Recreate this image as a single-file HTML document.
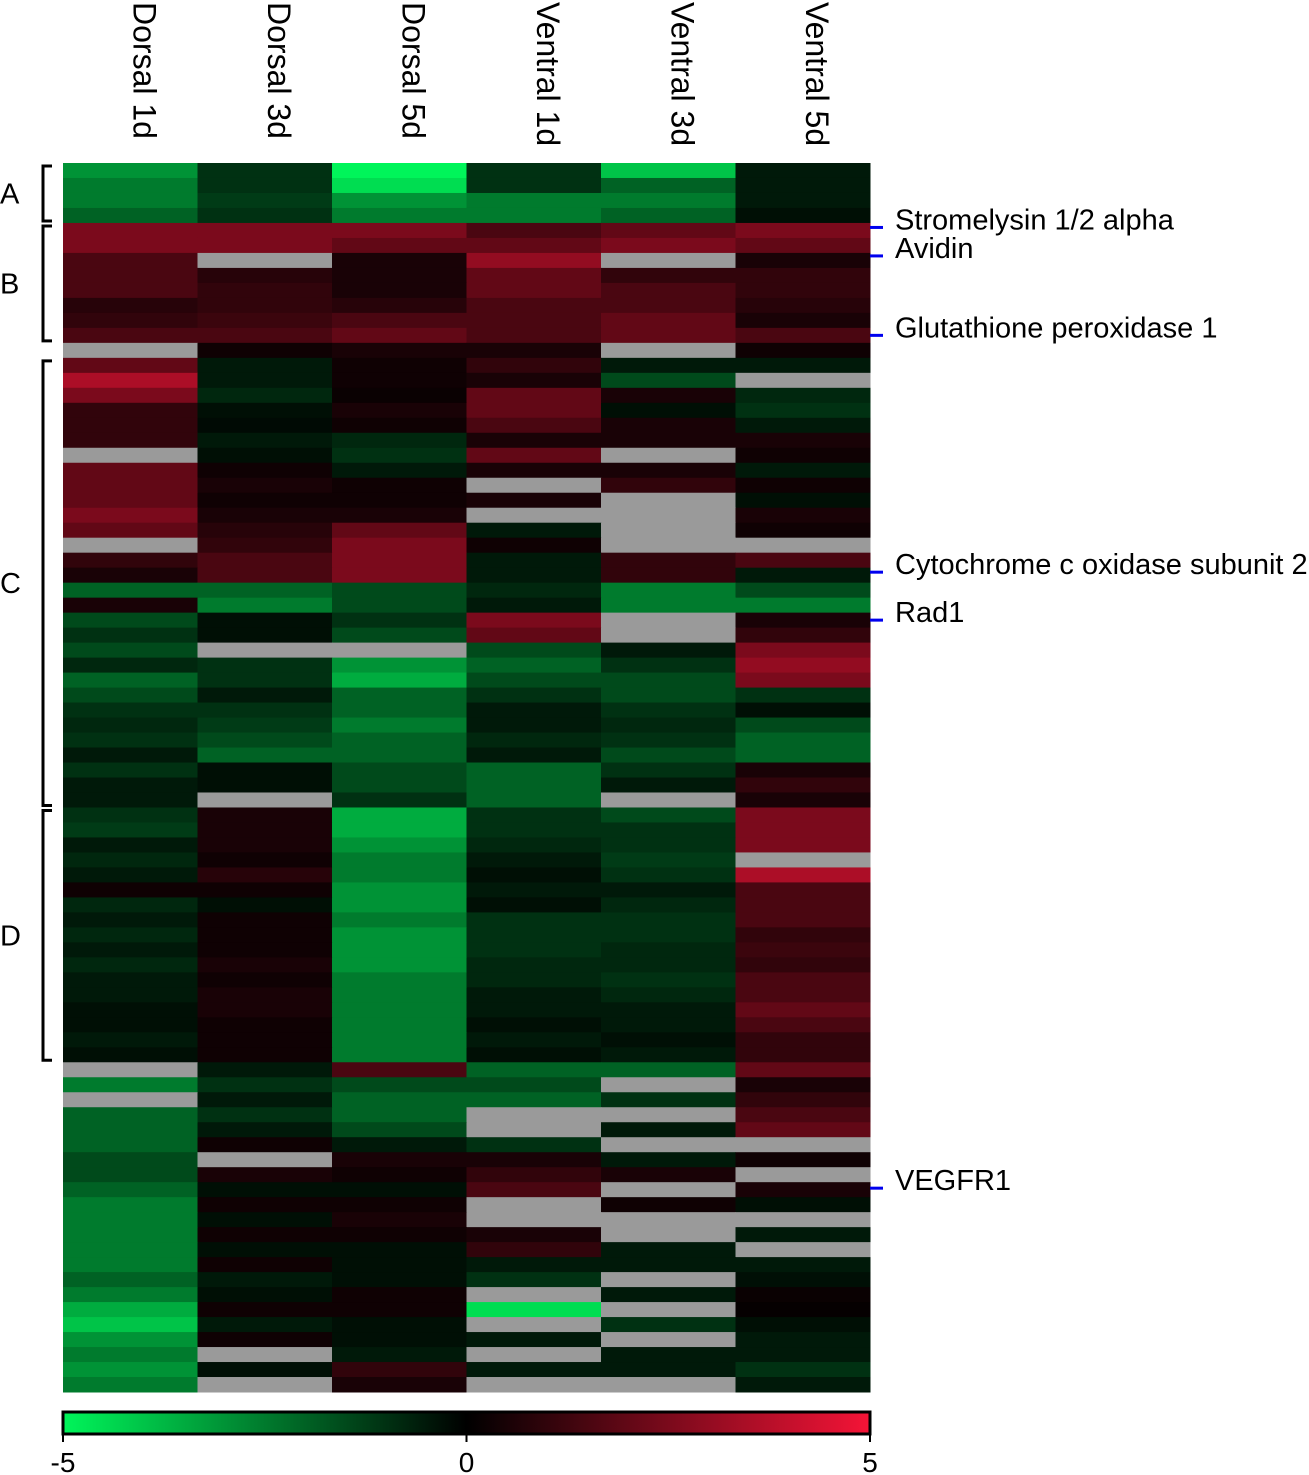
<!DOCTYPE html>
<html><head><meta charset="utf-8">
<style>
html,body{margin:0;padding:0;background:#fff;}
svg{display:block;font-family:"Liberation Sans",sans-serif;}
</style></head>
<body>
<svg id="chart" width="1309" height="1475" viewBox="0 0 1309 1475" xmlns="http://www.w3.org/2000/svg">
<g id="headers"></g>
<g id="cells"></g>
<g id="brackets"></g>
<g id="genes"></g>
<defs><linearGradient id="cbgrad" x1="0" x2="1" y1="0" y2="0">
<stop offset="0" stop-color="rgb(0,245,90)"/><stop offset="0.5" stop-color="rgb(0,0,0)"/><stop offset="1" stop-color="rgb(245,20,55)"/></linearGradient></defs>
<g id="colorbar">
<rect x="63" y="1412" width="807" height="22" fill="url(#cbgrad)" stroke="#000" stroke-width="3"/>
</g>
</svg>
<script>
const columns=["Dorsal 1d","Dorsal 3d","Dorsal 5d","Ventral 1d","Ventral 3d","Ventral 5d"];
const scaleTicks=[-5,0,5];
const clusters=["A","B","C","D"];
const clusterStartRow=[0,4,13,43];
const clusterEndRow=[4,12,43,60];
const geneLabels=["Stromelysin 1/2 alpha","Avidin","Glutathione peroxidase 1","Cytochrome c oxidase subunit 2","Rad1","VEGFR1"];
const geneRows=[4.3,6.2,11.5,27.3,30.5,68.4];
const values=[
[-3,-1,-5,-1,-4,-0.5],[-2.5,-1,-4.5,-1,-2,-0.5],[-2.5,-1.2,-3,-2.5,-2.5,-0.5],[-2,-1,-2.5,-2.5,-2,-0.3],
[2.5,2.5,2.5,1.5,2,2.5],[2.5,2.5,2,2,2.5,2],[1.5,null,0.5,3,null,0.5],[1.5,0.8,0.5,2,1,1],[1.5,1,0.5,2,1.5,1],
[0.8,1,0.8,1.5,1.5,0.8],[1,1.2,1.5,1.5,2,0.5],[1.5,1.5,2,1.5,2,1.5],[null,0.3,0.5,0.5,null,0.3],
[2,-0.5,0.3,1,-0.5,-0.5],[3.5,-0.5,0.3,0.5,-1.5,null],[2.5,-0.8,0.2,2,0.5,-0.8],[1,-0.3,0.5,2,-0.3,-1],
[1,-0.2,0.3,1.5,0.5,-0.5],[1,-0.5,-0.8,0.5,0.5,0.5],[null,-0.3,-1,2,null,0.3],[2,0.3,-0.5,0.5,0.5,-0.5],
[2,0.5,0.3,null,1,0.3],[2,0.3,0.3,0.5,null,-0.3],[2.5,0.5,0.5,null,null,0.5],[2,0.8,2,-0.5,null,0.3],
[null,1,2.5,0.3,null,null],[1,1.5,2.5,-0.5,1,1.5],[0.5,1.5,2.5,-0.5,1,-0.5],[-2,-2,-1.5,-0.8,-2.5,-1.5],
[0.5,-2.5,-1.5,-0.5,-2.5,-2.5],[-1.5,-0.3,-1,2.5,null,0.5],[-1,-0.3,-1.5,2,null,1],[-1.5,null,null,-1.5,-0.5,2.5],
[-0.8,-1,-3,-2,-1,3],[-2,-1,-3.5,-1.5,-1.5,2.5],[-1.5,-0.5,-2,-1,-1.5,-1],[-1,-1,-2,-0.5,-1,-0.3],
[-0.8,-1.2,-2.5,-0.5,-0.8,-1.5],[-1,-1.5,-2,-0.8,-1,-2],[-0.5,-2,-2,-0.5,-1.5,-2],[-1,-0.3,-1.5,-2,-1,0.5],
[-0.5,-0.3,-1.5,-2,-0.5,1],[-0.5,null,-1,-2,null,0.5],
[-1,0.5,-3.5,-1,-1.5,2.5],[-1.2,0.5,-3.5,-1,-1,2.5],[-0.5,0.5,-3,-0.8,-1,2.5],[-0.8,0.3,-2.5,-0.5,-1.2,null],
[-0.5,0.8,-2.5,-0.3,-1,3.5],[0.3,0.3,-3,-0.5,-0.5,1.5],[-0.8,-0.3,-3,-0.3,-0.8,1.5],[-0.5,0.3,-2.5,-1,-1,1.5],
[-0.8,0.3,-3,-1,-1,1],[-0.5,0.3,-3,-1,-0.8,1.2],[-0.8,0.5,-3,-0.8,-0.8,1],[-0.5,0.3,-2.5,-0.8,-1,1.5],
[-0.5,0.5,-2.5,-0.5,-0.8,1.5],[-0.3,0.5,-2.5,-0.5,-0.5,2],[-0.3,0.3,-2.5,-0.3,-0.5,1.5],[-0.5,0.3,-2.5,-0.5,-0.3,1],
[-0.3,0.3,-2.5,-0.3,-0.5,1],
[null,-0.5,1.5,-2,-2,2],[-2.5,-1,-1.5,-1.5,null,0.5],[null,-0.5,-2,-2,-1,1],[-2,-1,-2,null,null,1.5],
[-2,-0.5,-1.5,null,-0.5,2],[-2,0.3,-0.5,-1,null,null],[-1.5,null,0.5,0.5,-0.5,0.3],[-1.5,0.5,0.3,1,0.5,null],
[-2,-0.3,-0.3,1.5,null,0.5],[-2.5,0.3,0.3,null,0.3,-0.3],[-2.5,-0.3,0.5,null,null,null],[-2.5,0.3,0.3,0.5,null,-0.5],
[-2.5,-0.3,-0.3,1,-0.5,null],[-2.5,0.3,-0.3,-0.5,-0.5,-0.5],[-2,-0.5,-0.3,-1,null,-0.3],[-2.5,-0.3,0.3,null,-0.5,0.2],
[-3.5,0.3,0.3,-4.5,null,0.1],[-4,-0.5,-0.3,null,-1,-0.3],[-3,0.3,-0.3,-0.5,null,-0.5],[-2.5,null,-0.5,null,-0.5,-0.5],
[-3,-0.3,1,-0.5,-0.5,-1],[-2.5,null,0.5,null,null,-0.5]
];
const NS="http://www.w3.org/2000/svg";
const X0=63,X1=870,Y0=163,Y1=1392;
const colW=(X1-X0)/columns.length;
const rowH=(Y1-Y0)/values.length;
const xPos=i=>X0+i*colW;
const yPos=r=>Y0+r*rowH;
const xScale=v=>X0+(v+5)/10*(X1-X0);
function color(v){
  if(v===null) return "#9a9a9a";
  const t=Math.max(-1,Math.min(1,v/5));
  if(t<0){const a=-t;return `rgb(0,${Math.round(245*a)},${Math.round(90*a)})`;}
  return `rgb(${Math.round(245*t)},${Math.round(20*t)},${Math.round(55*t)})`;
}
function mk(tag,attrs,parent){const e=document.createElementNS(NS,tag);for(const k in attrs)e.setAttribute(k,attrs[k]);parent.appendChild(e);return e;}
const cells=document.getElementById("cells");
values.forEach((row,r)=>{row.forEach((v,c)=>{
  const e=mk("rect",{x:xPos(c),y:yPos(r),width:colW+0.5,height:rowH+0.5,fill:color(v)},cells);
  
  
});});
const hd=document.getElementById("headers");
columns.forEach((c,i)=>{
  const cx=xPos(i)+colW/2+3;
  const t=mk("text",{x:0,y:0,"font-size":"32",fill:"#000",transform:`translate(${cx},2) rotate(90)`},hd);
  t.textContent=c;
  
  
});
const br=document.getElementById("brackets");
clusters.forEach((c,i)=>{
  const ya=yPos(clusterStartRow[i])+3, yb=yPos(clusterEndRow[i])-2;
  const p=mk("path",{d:`M52 ${ya} H43 V${yb} H52`,fill:"none",stroke:"#000","stroke-width":"3"},br);
  
  
  const t=mk("text",{x:0,y:(ya+yb)/2+10,"font-size":"29",fill:"#000"},br);
  t.textContent=c;
  
  
});
const gn=document.getElementById("genes");
geneLabels.forEach((g,i)=>{
  const y=yPos(geneRows[i]);
  const l=mk("line",{x1:870,x2:883,y1:y,y2:y,stroke:"#0000ee","stroke-width":"3"},gn);
  
  
  const t=mk("text",{x:895,y:y+2,"font-size":"29",fill:"#000"},gn);
  t.textContent=g;
  
  
});
const cb=document.getElementById("colorbar");
scaleTicks.forEach(v=>{
  const x=xScale(v);
  const l=mk("line",{x1:x,x2:x,y1:1434,y2:1442,stroke:"#000","stroke-width":"2"},cb);
  
  
  const t=mk("text",{x:x,y:1472,"font-size":"28","text-anchor":"middle",fill:"#000"},cb);
  t.textContent=String(v);
  
  
});
</script>
</body></html>
